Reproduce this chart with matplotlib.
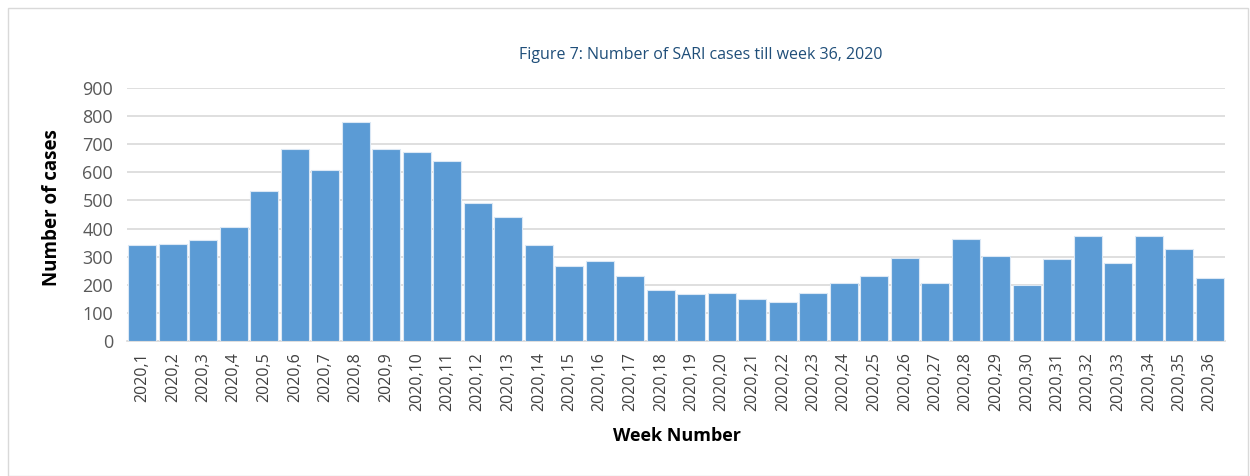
import matplotlib.pyplot as plt
import numpy as np

plt.rcParams['font.family'] = ['Open Sans', 'DejaVu Sans']

weeks = ["2020,%d" % i for i in range(1, 37)]
cases = [342, 346, 361, 405, 532, 684, 608, 780, 682, 671, 641, 492,
         442, 343, 267, 285, 233, 181, 166, 170, 149, 140, 171, 206,
         232, 296, 206, 362, 303, 198, 290, 372, 278, 373, 329, 225]

fig = plt.figure(figsize=(12.5, 4.76), dpi=100)
ax = fig.add_axes([127 / 1250, 1 - 341 / 476, (1225 - 127) / 1250, (341 - 88) / 476])

# outer chart border like the Excel frame
fig.patches.append(plt.Rectangle((8 / 1250, 0.0), 1240 / 1250, 1 - 8 / 476,
                                 transform=fig.transFigure, fill=False,
                                 edgecolor="#d9d9d9", linewidth=1))

x = np.arange(len(weeks))
ax.bar(x, cases, width=0.93, color="#5b9bd5", edgecolor="#dbe8f5", linewidth=0.8, zorder=3)

ax.set_xlim(-0.5, len(weeks) - 0.5)
ax.set_ylim(0, 900)
ax.set_yticks(range(0, 901, 100))
ax.yaxis.grid(True, color="#d9d9d9", linewidth=1.2, zorder=0)
ax.set_xticks(x)
ax.set_xticklabels(weeks, rotation=90, fontsize=11.5, color="#404040")
ax.tick_params(axis="y", labelsize=13, colors="#595959", length=0, pad=10)
ax.tick_params(axis="x", length=0, pad=8)
for s in ["top", "right", "left"]:
    ax.spines[s].set_visible(False)
ax.spines["bottom"].set_color("#d9d9d9")
ax.spines["bottom"].set_linewidth(1.2)

fig.text(52 / 1250, 1 - 208 / 476, "Number of cases", rotation=90, ha="center", va="center",
         fontsize=13.5, fontweight="bold")
fig.text(677 / 1250, 1 - 436 / 476, "Week Number", ha="center", va="center",
         fontsize=13, fontweight="bold")
fig.text(701 / 1250, 1 - 55 / 476, "Figure 7: Number of SARI cases till week 36, 2020",
         ha="center", va="center", fontsize=11.5, color="#1f4e79")

plt.savefig("out.png", dpi=100)
